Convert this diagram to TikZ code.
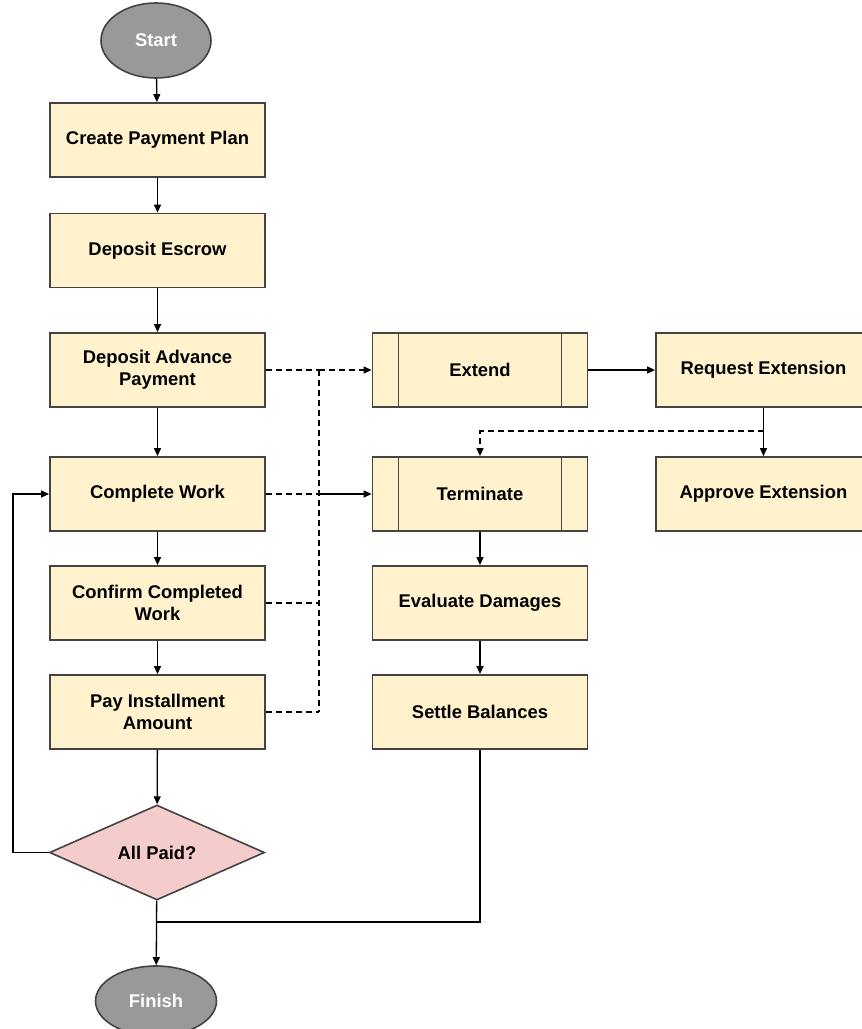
\documentclass[tikz,border=0pt]{standalone}
\usepackage{fontspec}
\setmainfont{Liberation Sans}
\usetikzlibrary{shapes.geometric,arrows.meta}
\definecolor{boxfill}{HTML}{FFF2CC}
\definecolor{boxline}{HTML}{434343}
\definecolor{decfill}{HTML}{F4CCCC}
\definecolor{termfill}{HTML}{999999}
\begin{document}
\begin{tikzpicture}[x=1pt,y=-1pt,
  lbl/.style={font=\fontsize{18.4}{22}\selectfont\bfseries, align=center},
  procbox/.style={lbl, draw=boxline, line width=1.8pt, fill=boxfill, minimum width=215pt, minimum height=74pt, inner sep=0pt},
  subproc/.style={procbox, path picture={
      \draw[boxline, line width=1.8pt] ([xshift=26pt]path picture bounding box.north west) -- ([xshift=26pt]path picture bounding box.south west);
      \draw[boxline, line width=1.8pt] ([xshift=-26pt]path picture bounding box.north east) -- ([xshift=-26pt]path picture bounding box.south east);}},
  term/.style={lbl, ellipse, draw=boxline, line width=1.6pt, fill=termfill, text=white, inner sep=0pt},
  dec/.style={lbl, diamond, draw=boxline, line width=1.6pt, fill=decfill, minimum width=215pt, minimum height=95pt, inner sep=0pt},
  conn/.style={line width=1.3pt, -{Triangle[length=8pt,width=7pt]}},
  plainline/.style={line width=1.3pt},
  dsh/.style={dash pattern=on 6pt off 4pt}
]
\useasboundingbox (0,0) rectangle (862,1029);
\clip (0,0) rectangle (862,1029);
\fill[white] (0,0) rectangle (862,1029);

% left column
\node[term, minimum width=110pt, minimum height=75pt] (start) at (156,40.5) {Start};
\node[procbox] (plan) at (157.5,140) {Create Payment Plan};
\node[procbox] (escrow) at (157.5,250.5) {Deposit Escrow};
\node[procbox] (advance) at (157.5,370) {Deposit Advance\\Payment};
\node[procbox] (work) at (157.5,494) {Complete Work};
\node[procbox] (confirm) at (157.5,603) {Confirm Completed\\Work};
\node[procbox] (pay) at (157.5,712) {Pay Installment\\Amount};
\node[dec] (paid) at (157,852.5) {All Paid?};
\node[term, minimum width=121pt, minimum height=70pt] (finish) at (156,1001) {Finish};

% right column
\node[subproc] (extend) at (480,370) {Extend};
\node[subproc] (terminate) at (480,494) {Terminate};
\node[procbox] (evaluate) at (480,603) {Evaluate Damages};
\node[procbox] (settle) at (480,712) {Settle Balances};
\node[procbox] (request) at (763.5,370) {Request Extension};
\node[procbox] (approve) at (763.5,494) {Approve Extension};

% helper coordinates
\coordinate (bus1) at (319,370);
\coordinate (bus2) at (319,494);
\coordinate (bus3) at (319,603);
\coordinate (bus4) at (319,712);
\coordinate (join) at (157,922);
\coordinate (loop) at (13,852.5);
\coordinate (split) at (763.5,431);
\coordinate (dropT) at (480,431);

% main flow
\draw[conn] (start) -- (plan);
\draw[conn] (plan) -- (escrow);
\draw[conn] (escrow) -- (advance);
\draw[conn] (advance) -- (work);
\draw[conn] (work) -- (confirm);
\draw[conn] (confirm) -- (pay);
\draw[conn] (pay) -- (paid);
\draw[conn] (paid) -- (finish);
\draw[plainline] (settle.south) |- (join);
\draw[conn] (paid.west) -- (loop) |- (work.west);

% dashed bus
\draw[plainline, dsh] (advance.east) -- (bus1);
\draw[plainline, dsh] (work.east) -- (bus2);
\draw[plainline, dsh] (confirm.east) -- (bus3);
\draw[plainline, dsh] (pay.east) -- (bus4);
\draw[plainline, dsh] (bus1) -- (bus4);
\draw[conn, dsh] (bus1) -- (extend.west);
\draw[conn] (bus2) -- (terminate.west);

% right side
\draw[conn] (extend) -- (request);
\draw[conn] (request) -- (approve);
\draw[conn, dsh] (split) -- (dropT) -- (terminate.north);
\draw[conn] (terminate) -- (evaluate);
\draw[conn] (evaluate) -- (settle);
\end{tikzpicture}
\end{document}
